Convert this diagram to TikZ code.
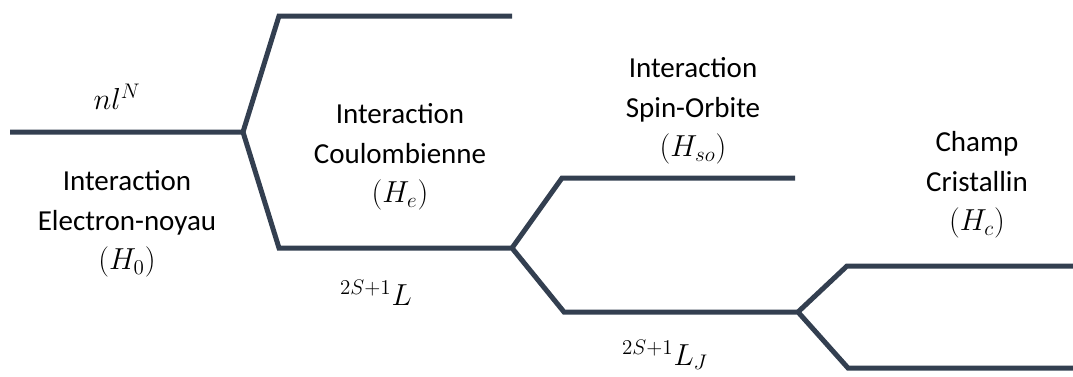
\documentclass[tikz,border=0pt]{standalone}
\usepackage{fontspec}
\setmainfont{Carlito}
\usepackage{tikz}

\begin{document}
\begin{tikzpicture}[x=0.02cm, y=-0.02cm,
  niveau/.style={draw=colLigne, line width=0.1cm},
  etiq/.style={align=center, font=\fontsize{16.5}{22.5}\selectfont, inner sep=0pt}]

% Couleurs
\definecolor{colLigne}{HTML}{333F50}

\useasboundingbox (0,0) rectangle (1073,376);

% Points des niveaux
\coordinate (nA) at (10,132);
\coordinate (sA) at (243,132);
\coordinate (cB1) at (279,16);
\coordinate (eB1) at (512,16);
\coordinate (cB2) at (279,248);
\coordinate (sB) at (512,248);
\coordinate (cC1) at (562,178);
\coordinate (eC1) at (795,178);
\coordinate (cC2) at (564,312);
\coordinate (sC) at (798,312);
\coordinate (cD1) at (847,266);
\coordinate (eD1) at (1073,266);
\coordinate (cD2) at (848,368);
\coordinate (eD2) at (1073,368);

% Niveaux
\draw[niveau] (nA) -- (sA) -- (cB2) -- (sB) -- (cC2) -- (sC) -- (cD2) -- (eD2);
\draw[niveau] (sA) -- (cB1) -- (eB1);
\draw[niveau] (sB) -- (cC1) -- (eC1);
\draw[niveau] (sC) -- (cD1) -- (eD1);

% Configurations
\node[etiq] (nlN) at (117,97) {$nl^N$};
\node[etiq] (L) at (376,293) {${}^{2S+1}L$};
\node[etiq] (LJ) at (665,355) {${}^{2S+1}L_J$};

% Interactions
\node[etiq] (H0) at (127,224) {Interaction\\Electron-noyau\\$(H_0)$};
\node[etiq] (He) at (400,157) {Interaction\\Coulombienne\\$(H_e)$};
\node[etiq] (Hso) at (693,111) {Interaction\\Spin-Orbite\\$(H_{so})$};
\node[etiq] (Hc) at (977,185) {Champ\\Cristallin\\$(H_c)$};

\end{tikzpicture}
\end{document}
